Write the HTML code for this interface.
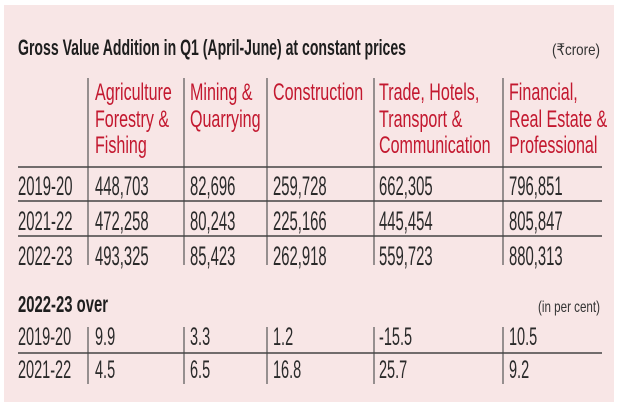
<!DOCTYPE html>
<html><head><meta charset="utf-8"><style>
html,body{margin:0;padding:0;background:#fff;}
svg{display:block;}
text{font-family:"Liberation Sans",sans-serif;}
.h{fill:#c3182f;font-size:24px;}
.d{fill:#2a2a2a;font-size:27px;}
.e{fill:#2a2a2a;font-size:25px;}
</style></head><body>
<svg width="620" height="413" viewBox="0 0 620 413" xmlns="http://www.w3.org/2000/svg">
<rect x="0" y="0" width="620" height="413" fill="#fff"/>
<rect x="4" y="5" width="610" height="397" fill="#f8e6e6"/>
<text x="18" y="55" font-size="22" font-weight="bold" fill="#1e1e1e" textLength="388" lengthAdjust="spacingAndGlyphs">Gross Value Addition in Q1 (April-June) at constant prices</text>
<text x="600" y="55" font-size="16" fill="#333" text-anchor="end" textLength="48" lengthAdjust="spacingAndGlyphs">(₹crore)</text>
<g stroke="#555" stroke-width="1.2">
<line x1="88" y1="78" x2="88" y2="265"/><line x1="184" y1="78" x2="184" y2="265"/><line x1="267" y1="78" x2="267" y2="265"/><line x1="374" y1="78" x2="374" y2="265"/><line x1="503" y1="78" x2="503" y2="265"/>
<line x1="88" y1="327" x2="88" y2="384"/><line x1="184" y1="327" x2="184" y2="384"/><line x1="267" y1="327" x2="267" y2="384"/><line x1="374" y1="327" x2="374" y2="384"/><line x1="503" y1="327" x2="503" y2="384"/>
</g>
<g stroke="#444" stroke-width="1.6">
<line x1="18" y1="167" x2="602" y2="167"/><line x1="18" y1="201" x2="602" y2="201"/><line x1="18" y1="236" x2="602" y2="236"/><line x1="18" y1="353" x2="602" y2="353"/>
</g>
<g class="h">
<text transform="translate(95,100) scale(0.67,1)">Agriculture</text>
<text transform="translate(95,127) scale(0.67,1)">Forestry &amp;</text>
<text transform="translate(95,153) scale(0.67,1)">Fishing</text>
<text transform="translate(190,100) scale(0.67,1)">Mining &amp;</text>
<text transform="translate(190,127) scale(0.67,1)">Quarrying</text>
<text transform="translate(273,100) scale(0.67,1)">Construction</text>
<text transform="translate(379,100) scale(0.67,1)">Trade, Hotels,</text>
<text transform="translate(379,127) scale(0.67,1)">Transport &amp;</text>
<text transform="translate(379,153) scale(0.67,1)">Communication</text>
<text transform="translate(509,100) scale(0.67,1)">Financial,</text>
<text transform="translate(509,127) scale(0.67,1)">Real Estate &amp;</text>
<text transform="translate(509,153) scale(0.67,1)">Professional</text>
</g>
<g class="d">
<text transform="translate(18,195) scale(0.55,1)">2019-20</text>
<text transform="translate(95,195) scale(0.55,1)">448,703</text>
<text transform="translate(190,195) scale(0.55,1)">82,696</text>
<text transform="translate(273,195) scale(0.55,1)">259,728</text>
<text transform="translate(379,195) scale(0.55,1)">662,305</text>
<text transform="translate(509,195) scale(0.55,1)">796,851</text>
<text transform="translate(18,230) scale(0.55,1)">2021-22</text>
<text transform="translate(95,230) scale(0.55,1)">472,258</text>
<text transform="translate(190,230) scale(0.55,1)">80,243</text>
<text transform="translate(273,230) scale(0.55,1)">225,166</text>
<text transform="translate(379,230) scale(0.55,1)">445,454</text>
<text transform="translate(509,230) scale(0.55,1)">805,847</text>
<text transform="translate(18,265) scale(0.55,1)">2022-23</text>
<text transform="translate(95,265) scale(0.55,1)">493,325</text>
<text transform="translate(190,265) scale(0.55,1)">85,423</text>
<text transform="translate(273,265) scale(0.55,1)">262,918</text>
<text transform="translate(379,265) scale(0.55,1)">559,723</text>
<text transform="translate(509,265) scale(0.55,1)">880,313</text>
</g>
<g class="e">
<text transform="translate(18,345) scale(0.58,1)">2019-20</text>
<text transform="translate(95,345) scale(0.58,1)">9.9</text>
<text transform="translate(190,345) scale(0.58,1)">3.3</text>
<text transform="translate(273,345) scale(0.58,1)">1.2</text>
<text transform="translate(379,345) scale(0.58,1)">-15.5</text>
<text transform="translate(509,345) scale(0.58,1)">10.5</text>
<text transform="translate(18,378) scale(0.58,1)">2021-22</text>
<text transform="translate(95,378) scale(0.58,1)">4.5</text>
<text transform="translate(190,378) scale(0.58,1)">6.5</text>
<text transform="translate(273,378) scale(0.58,1)">16.8</text>
<text transform="translate(379,378) scale(0.58,1)">25.7</text>
<text transform="translate(509,378) scale(0.58,1)">9.2</text>
</g>
<text x="18" y="312" font-size="23" font-weight="bold" fill="#1e1e1e" textLength="90" lengthAdjust="spacingAndGlyphs">2022-23 over</text>
<text x="600" y="312" font-size="16" fill="#333" text-anchor="end" textLength="62" lengthAdjust="spacingAndGlyphs">(in per cent)</text>
</svg>
</body></html>
